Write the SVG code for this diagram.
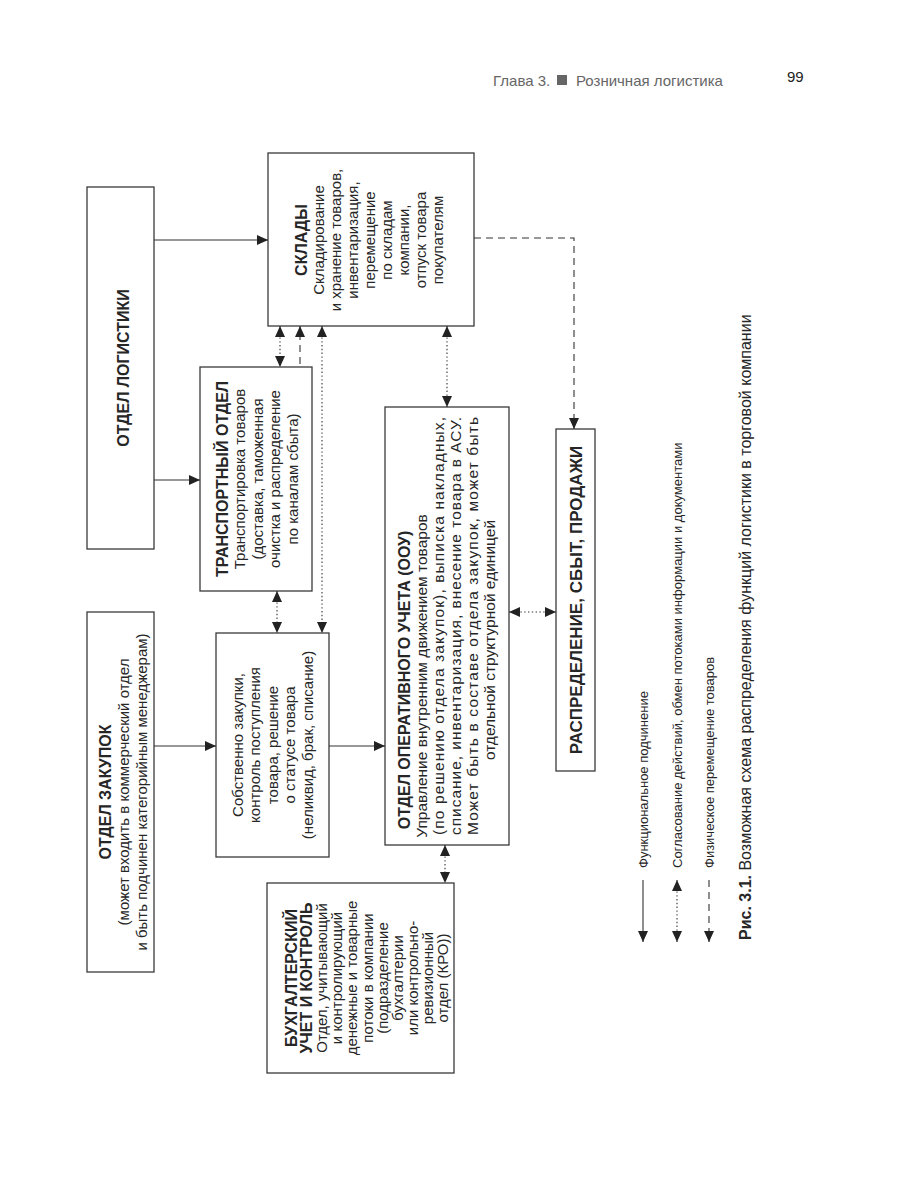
<svg xmlns="http://www.w3.org/2000/svg" width="920" height="1200" viewBox="0 0 920 1200">
<defs>
<marker id="ah" markerUnits="userSpaceOnUse" markerWidth="12" markerHeight="10" refX="11" refY="5" orient="auto-start-reverse">
<path d="M0,0 L11,5 L0,10 z" fill="#222"/>
</marker>
<style>
.box{fill:#fff;stroke:#3a3a3a;stroke-width:1.3}
.t{font-family:"Liberation Sans",Arial,Helvetica,sans-serif;font-size:15px;fill:#262626}
.b{font-weight:bold;font-size:16px}
.lg{font-size:13px}
.ln{stroke:#333;stroke-width:1.1;fill:none}
.dot{stroke-dasharray:1.4 2.4}
.dash{stroke-dasharray:7 5}
.hdr{font-family:"Liberation Sans",Arial,sans-serif;font-size:15px;fill:#666}
</style>
</defs>
<rect width="920" height="1200" fill="#fff"/>

<g id="header">
<text class="hdr" x="493" y="86">Глава 3.</text>
<rect x="557" y="75" width="10" height="10" fill="#666"/>
<text class="hdr" x="576" y="86">Розничная логистика</text>
<text class="hdr" x="787" y="82" style="fill:#222">99</text>
</g>

<g id="logistics">
<rect class="box" x="87" y="187" width="67" height="362"/>
<text class="t b" transform="translate(128.5,368) rotate(-90)" text-anchor="middle">ОТДЕЛ ЛОГИСТИКИ</text>
</g>

<g id="purchasing">
<rect class="box" x="87" y="612" width="67" height="360"/>
<text class="t" transform="translate(110.5,792) rotate(-90)" text-anchor="middle"><tspan class="b" x="0" y="0">ОТДЕЛ ЗАКУПОК</tspan><tspan x="0" dy="18">(может входить в коммерческий отдел</tspan><tspan x="0" dy="18">и быть подчинен категорийным менеджерам)</tspan></text>
</g>

<g id="transport">
<rect class="box" x="200" y="367" width="112" height="224"/>
<text class="t" transform="translate(227.5,479) rotate(-90)" text-anchor="middle"><tspan class="b" x="0" y="0">ТРАНСПОРТНЫЙ ОТДЕЛ</tspan><tspan x="0" dy="17.5">Транспортировка товаров</tspan><tspan x="0" dy="17.5">(доставка, таможенная</tspan><tspan x="0" dy="17.5">очистка и распределение</tspan><tspan x="0" dy="17.5">по каналам сбыта)</tspan></text>
</g>

<g id="buying">
<rect class="box" x="216" y="633" width="113" height="224"/>
<text class="t" transform="translate(242.5,745) rotate(-90)" text-anchor="middle"><tspan x="0" y="0">Собственно закупки,</tspan><tspan x="0" dy="17.5">контроль поступления</tspan><tspan x="0" dy="17.5">товара, решение</tspan><tspan x="0" dy="17.5">о статусе товара</tspan><tspan x="0" dy="17.5">(неликвид, брак, списание)</tspan></text>
</g>

<g id="warehouses">
<rect class="box" x="268" y="153" width="206" height="173"/>
<text class="t" transform="translate(306.5,240) rotate(-90)" text-anchor="middle"><tspan class="b" x="0" y="0">СКЛАДЫ</tspan><tspan x="0" dy="17">Складирование</tspan><tspan x="0" dy="17">и хранение товаров,</tspan><tspan x="0" dy="17">инвентаризация,</tspan><tspan x="0" dy="17">перемещение</tspan><tspan x="0" dy="17">по складам</tspan><tspan x="0" dy="17">компании,</tspan><tspan x="0" dy="17">отпуск товара</tspan><tspan x="0" dy="17">покупателям</tspan></text>
</g>

<g id="ooy">
<rect class="box" x="385" y="407" width="124" height="438"/>
<text class="t" style="font-size:15.5px" transform="translate(410,0) rotate(-90)" text-anchor="middle"><tspan class="b" x="-680" y="0">ОТДЕЛ ОПЕРАТИВНОГО УЧЕТА (ООУ)</tspan><tspan x="-676" dy="17">Управление внутренним движением товаров</tspan><tspan x="-626" dy="17" textLength="418" lengthAdjust="spacing">(по решению отдела закупок), выписка накладных,</tspan><tspan x="-626" dy="17" textLength="418" lengthAdjust="spacing">списание, инвентаризация, внесение товара в АСУ.</tspan><tspan x="-626" dy="17" textLength="418" lengthAdjust="spacing">Может быть в составе отдела закупок, может быть</tspan><tspan x="-640" dy="17">отдельной структурной единицей</tspan></text>
</g>

<g id="sales">
<rect class="box" x="556" y="429" width="39" height="342"/>
<text class="t b" style="font-size:17px" transform="translate(581.5,600) rotate(-90)" text-anchor="middle">РАСПРЕДЕЛЕНИЕ, СБЫТ, ПРОДАЖИ</text>
</g>

<g id="accounting">
<rect class="box" x="267" y="883" width="187" height="190"/>
<text class="t" transform="translate(296.5,978) rotate(-90)" text-anchor="middle"><tspan class="b" x="0" y="0">БУХГАЛТЕРСКИЙ</tspan><tspan class="b" x="0" dy="15.2">УЧЕТ И КОНТРОЛЬ</tspan><tspan x="0" dy="15.2">Отдел, учитывающий</tspan><tspan x="0" dy="15.2">и контролирующий</tspan><tspan x="0" dy="15.2">денежные и товарные</tspan><tspan x="0" dy="15.2">потоки в компании</tspan><tspan x="0" dy="15.2">(подразделение</tspan><tspan x="0" dy="15.2">бухгалтерии</tspan><tspan x="0" dy="15.2">или контрольно-</tspan><tspan x="0" dy="15.2">ревизионный</tspan><tspan x="0" dy="15.2">отдел (КРО))</tspan></text>
</g>

<g id="connectors">
<path class="ln" d="M154,240 H268" marker-end="url(#ah)"/>
<path class="ln" d="M154,480 H200" marker-end="url(#ah)"/>
<path class="ln" d="M154,746 H216" marker-end="url(#ah)"/>
<path class="ln" d="M329,746 H385" marker-end="url(#ah)"/>
<path class="ln dot" d="M280,326 V367" marker-start="url(#ah)" marker-end="url(#ah)"/>
<path class="ln dash" d="M300,364 V326" marker-end="url(#ah)"/>
<path class="ln dot" d="M322,326 V633" marker-start="url(#ah)" marker-end="url(#ah)"/>
<path class="ln dot" d="M277,591 V633" marker-start="url(#ah)" marker-end="url(#ah)"/>
<path class="ln dot" d="M447,326 V407" marker-start="url(#ah)" marker-end="url(#ah)"/>
<path class="ln dash" d="M474,238 H574 V429" marker-end="url(#ah)"/>
<path class="ln dot" d="M509,612 H556" marker-start="url(#ah)" marker-end="url(#ah)"/>
<path class="ln dot" d="M445,845 V883" marker-start="url(#ah)" marker-end="url(#ah)"/>
</g>

<g id="legend">
<path class="ln" d="M643,880 V942" marker-end="url(#ah)"/>
<path class="ln dot" d="M677,880 V942" marker-start="url(#ah)" marker-end="url(#ah)"/>
<path class="ln dash" d="M709,880 V942" marker-end="url(#ah)"/>
<text class="t lg" transform="translate(647.5,868) rotate(-90)">Функциональное подчинение</text>
<text class="t lg" transform="translate(681.5,868) rotate(-90)">Согласование действий, обмен потоками информации и документами</text>
<text class="t lg" transform="translate(713.5,868) rotate(-90)">Физическое перемещение товаров</text>
<text class="t" style="font-size:16px" transform="translate(750.5,940) rotate(-90)"><tspan font-weight="bold">Рис. 3.1.</tspan> Возможная схема распределения функций логистики в торговой компании</text>
</g>
</svg>
